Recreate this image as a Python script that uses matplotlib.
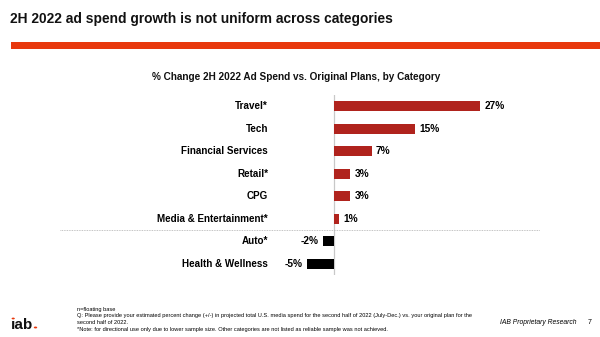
import matplotlib.pyplot as plt
from matplotlib.patches import Rectangle, Circle

plt.rcParams['font.family'] = ['Liberation Sans', 'DejaVu Sans']

# % change in 2H 2022 ad spend vs. original plans
categories = ['Travel*', 'Tech', 'Financial Services', 'Retail*', 'CPG',
              'Media & Entertainment*', 'Auto*', 'Health & Wellness']
values = [27, 15, 7, 3, 3, 1, -2, -5]
value_labels = ['27%', '15%', '7%', '3%', '3%', '1%', '-2%', '-5%']

RED = '#b0231d'
ORANGE = '#e8380d'

fig = plt.figure(figsize=(6, 3.37), dpi=100)
fig.patch.set_facecolor('white')

# header
fig.text(10 / 600, 1 - 19.5 / 337, '2H 2022 ad spend growth is not uniform across categories',
         fontsize=9.9, fontweight='bold', va='center', ha='left', color='#111111')
fig.add_artist(Rectangle((11 / 600, 1 - 49 / 337), 1, 7 / 337,
                         transform=fig.transFigure, color=ORANGE, lw=0))

fig.text(296 / 600, 1 - 77 / 337,
         '% Change 2H 2022 Ad Spend vs. Original Plans, by Category',
         fontsize=7.2, fontweight='bold', ha='center', va='center', color='#111111')

# bar chart
ax = fig.add_axes([60 / 600, 1 - 275 / 337, 480 / 600, 180 / 337])
ypos = list(range(len(categories)))
colors = [RED if v > 0 else 'black' for v in values]
ax.barh(ypos, values, height=0.44, color=colors)
ax.set_xlim(-50.7, 38.1)
ax.set_ylim(7.49, -0.49)
ax.axvline(0, color='#c8c8c8', lw=0.9, zorder=0)
ax.axhline(5.5, color='#b0b0b0', lw=0.6, ls=(0, (1, 1)))
ax.axis('off')

for y, v, lab, cat in zip(ypos, values, value_labels, categories):
    if v >= 0:
        ax.annotate(lab, (v, y), xytext=(3, 0), textcoords='offset points',
                    ha='left', va='center', fontsize=7.3, fontweight='bold')
    else:
        ax.annotate(lab, (v, y), xytext=(-3, 0), textcoords='offset points',
                    ha='right', va='center', fontsize=7.3, fontweight='bold')
    ax.annotate(cat, (0, y), xytext=(-47.5, 0), textcoords='offset points',
                ha='right', va='center', fontsize=7.1, fontweight='bold')

# footer logo: dotless i with red dots
fig.text(11 / 600, 1 - 329 / 337, '\u0131ab', fontsize=11, fontweight='heavy',
         ha='left', va='baseline', color='#111111')
fig.add_artist(Circle((13.2 / 600, 1 - 318.5 / 337), 1.6 / 600,
                      transform=fig.transFigure, color=ORANGE, lw=0))
fig.add_artist(Circle((35.5 / 600, 1 - 327.5 / 337), 1.7 / 600,
                      transform=fig.transFigure, color=ORANGE, lw=0))

foot = 4.1
fig.text(77 / 600, 1 - 309 / 337, 'n=floating base', fontsize=foot, va='center')
fig.text(77 / 600, 1 - 316 / 337,
         'Q: Please provide your estimated percent change (+/-) in projected total U.S. media spend '
         'for the second half of 2022 (July-Dec.) vs. your original plan for the',
         fontsize=foot, va='center')
fig.text(77 / 600, 1 - 322 / 337, 'second half of 2022.', fontsize=foot, va='center')
fig.text(77 / 600, 1 - 329 / 337,
         '*Note: for directional use only due to lower sample size. Other categories are not '
         'listed as reliable sample was not achieved.',
         fontsize=foot, va='center')
fig.text(576 / 600, 1 - 322 / 337, 'IAB Proprietary Research', fontsize=4.9,
         style='italic', ha='right', va='center')
fig.text(588 / 600, 1 - 322 / 337, '7', fontsize=5, ha='left', va='center')

fig.savefig('out.png', dpi=100)
